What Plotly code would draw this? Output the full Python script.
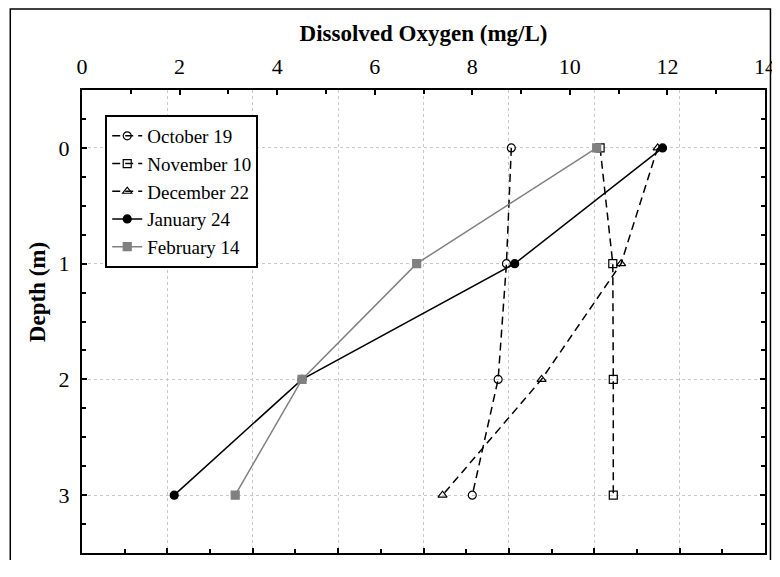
import plotly.graph_objects as go

# depth (m) and dissolved oxygen (mg/L) per sampling date
depth = [0, 1, 2, 3]
oct19 = [8.80, 8.70, 8.53, 8.00]
nov10 = [10.62, 10.88, 10.89, 10.89]
dec22 = [11.80, 11.05, 9.42, 7.39]
jan24 = [11.90, 8.87, 4.51, 1.89]
feb14 = [10.55, 6.86, 4.51, 3.14]

FONT = "Liberation Serif"
GRID = "rgb(200,200,200)"
DASH = "8px,5px"

fig = go.Figure()

series = [
    ("October 19", oct19, "black", DASH, "circle-open", "black"),
    ("November 10", nov10, "black", DASH, "square-open", "black"),
    ("December 22", dec22, "black", DASH, "triangle-up-open", "black"),
    ("January 24", jan24, "black", "solid", "circle", "black"),
    ("February 14", feb14, "rgb(128,128,128)", "solid", "square", "rgb(128,128,128)"),
]
for name, vals, col, dash, sym, mcol in series:
    fig.add_trace(go.Scatter(
        x=vals, y=depth, name=name, mode="lines+markers",
        line=dict(color=col, width=1.5, dash=dash),
        marker=dict(symbol=sym, size=8, color=mcol,
                    line=dict(color=mcol, width=1.2)),
    ))

# empty trace so the bottom (grid) axis and the right axis are drawn
fig.add_trace(go.Scatter(x=[], y=[], xaxis="x2", yaxis="y2",
                         showlegend=False, hoverinfo="skip"))

axis_line = dict(showline=True, linecolor="black", linewidth=2, zeroline=False,
                 automargin=False)
tick_style = dict(ticks="inside", ticklen=5, tickcolor="black", tickwidth=1.5)

# sized so the page (8px body margin) needs no scrollbars
fig.update_layout(
    width=764, height=552,
    margin=dict(l=74, r=7, t=82, b=7),
    paper_bgcolor="white", plot_bgcolor="white",
    font=dict(family=FONT, size=22, color="black"),
    xaxis=dict(
        side="top", range=[0, 14], dtick=2, tick0=0,
        minor=dict(ticks="inside", dtick=1, ticklen=4, tickcolor="black", showgrid=False),
        showgrid=False, ticklabelstandoff=5, ticklabeloverflow="allow",
        title=dict(text="<b>Dissolved Oxygen (mg/L)</b>", standoff=6,
                   font=dict(family=FONT, size=23)),
        tickfont=dict(family=FONT, size=22),
        **tick_style, **axis_line,
    ),
    xaxis2=dict(
        overlaying="x", side="bottom", range=[0, 14], dtick=1.75, tick0=0,
        showticklabels=False,
        minor=dict(ticks="inside", dtick=0.875, ticklen=4, tickcolor="black", showgrid=False),
        showgrid=True, gridcolor=GRID, griddash="dot", gridwidth=1,
        **tick_style, **axis_line,
    ),
    yaxis=dict(
        range=[3.5, -0.5], dtick=1, tick0=0,
        minor=dict(ticks="inside", dtick=0.25, ticklen=4, tickcolor="black", showgrid=False),
        showgrid=True, gridcolor=GRID, griddash="dot", gridwidth=1,
        ticklabelstandoff=6,
        tickfont=dict(family=FONT, size=22),
        **tick_style, **axis_line,
    ),
    yaxis2=dict(
        overlaying="y", side="right", range=[3.5, -0.5], dtick=1, tick0=0,
        showticklabels=False, showgrid=False,
        minor=dict(ticks="inside", dtick=0.25, ticklen=4, tickcolor="black", showgrid=False),
        **tick_style, **axis_line,
    ),
    legend=dict(
        x=0.034, y=0.946, xanchor="left", yanchor="top",
        bgcolor="white", bordercolor="black", borderwidth=2,
        font=dict(family=FONT, size=19), tracegroupgap=0, itemwidth=30,
    ),
    showlegend=True,
)

# y axis title, placed like the original
fig.add_annotation(
    text="<b>Depth (m)</b>", textangle=-90, showarrow=False,
    xref="paper", yref="paper", x=-0.064, y=0.564,
    xanchor="center", yanchor="middle",
    font=dict(family=FONT, size=23),
)

# outer frame around the whole figure
fig.add_shape(type="rect", xref="paper", yref="paper",
              x0=-0.105, x1=1.008, y0=-0.06, y1=1.175,
              line=dict(color="black", width=1.5), fillcolor="rgba(0,0,0,0)")

fig.write_html("out.html")
